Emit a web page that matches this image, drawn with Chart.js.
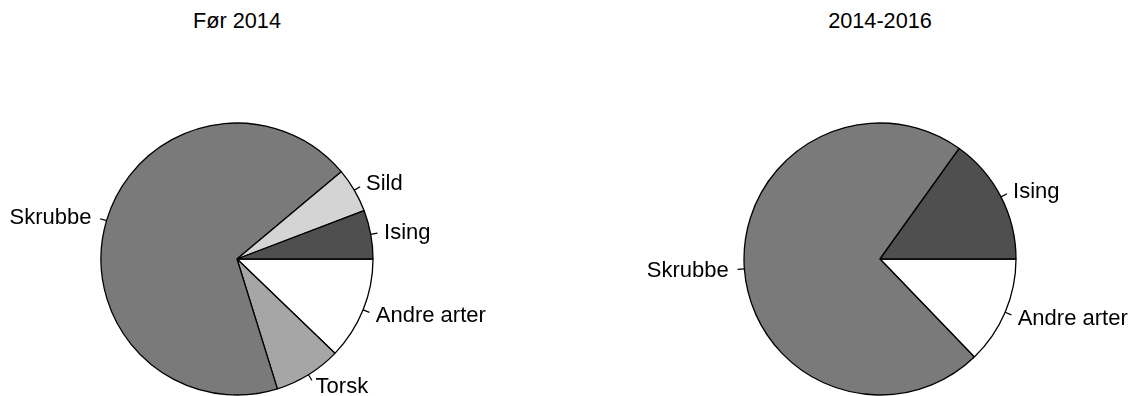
<!DOCTYPE html>
<html>
<head>
<meta charset="utf-8">
<script src="https://cdn.jsdelivr.net/npm/chart.js@4.4.1/dist/chart.umd.min.js"></script>
<style>
  html, body { margin: 0; padding: 0; background: #fff; }
  body { width: 1139px; height: 396px; position: relative; overflow: hidden; font-family: "Liberation Sans", Arial, sans-serif; }
  .wrap { position: absolute; top: 0; height: 396px; }
  .title { position: absolute; top: 8px; font-size: 21.7px; color: #000; transform: translateX(-50%); white-space: nowrap; line-height: 26px; }
</style>
</head>
<body>
<div class="title" style="left:237px">Før 2014</div>
<div class="title" style="left:880px">2014-2016</div>
<div class="wrap" style="left:0px;width:560px"><canvas id="c1" width="560" height="396"></canvas></div>
<div class="wrap" style="left:570px;width:569px"><canvas id="c2" width="569" height="396"></canvas></div>
<script>
// Data (listed counterclockwise from 3 o'clock, as in the reference)
const titles = ['Før 2014', '2014-2016'];
const categoriesLeft = ['Ising', 'Sild', 'Skrubbe', 'Torsk', 'Andre arter'];
const valuesLeft = [5.8, 5.3, 68.7, 8.0, 12.2];
const categoriesRight = ['Ising', 'Skrubbe', 'Andre arter'];
const valuesRight = [15.1, 72.1, 12.8];

const speciesColors = {
  'Ising': '#4f4f4f',
  'Sild': '#d4d4d4',
  'Skrubbe': '#7a7a7a',
  'Torsk': '#a6a6a6',
  'Andre arter': '#ffffff'
};

const FONT = '22px "Liberation Sans", Arial, sans-serif';

const pieLabels = {
  id: 'pieLabels',
  afterDatasetsDraw(chart) {
    const ctx = chart.ctx;
    const meta = chart.getDatasetMeta(0);
    const labels = chart.data.labels;
    ctx.save();
    ctx.font = FONT;
    ctx.fillStyle = '#000';
    ctx.strokeStyle = '#000';
    ctx.lineWidth = 1.2;
    ctx.textBaseline = 'middle';
    meta.data.forEach((arc, i) => {
      const p = arc.getProps(['x', 'y', 'startAngle', 'endAngle', 'outerRadius'], true);
      const a = (p.startAngle + p.endAngle) / 2;
      const c = Math.cos(a), s = Math.sin(a);
      const r = p.outerRadius;
      ctx.beginPath();
      ctx.moveTo(p.x + r * c, p.y + r * s);
      ctx.lineTo(p.x + 1.05 * r * c, p.y + 1.05 * r * s);
      ctx.stroke();
      ctx.textAlign = c < 0 ? 'right' : 'left';
      const dx = c < 0 ? -2 : 0;
      ctx.fillText(labels[i], p.x + 1.1 * r * c + dx, p.y + 1.1 * r * s + 1);
    });
    ctx.restore();
  }
};

function makePie(id, cats, vals, padL, padR) {
  // Chart.js draws clockwise, so reverse to get the counterclockwise order
  const labels = cats.slice().reverse();
  const data = vals.slice().reverse();
  return new Chart(document.getElementById(id), {
    type: 'pie',
    data: {
      labels: labels,
      datasets: [{
        data: data,
        backgroundColor: labels.map(l => speciesColors[l]),
        borderColor: '#000',
        borderWidth: 1.3,
        hoverOffset: 0
      }]
    },
    options: {
      responsive: false,
      animation: false,
      rotation: 90,
      radius: 136,
      layout: { padding: { left: padL, right: padR, top: 123, bottom: 1 } },
      plugins: { legend: { display: false }, tooltip: { enabled: false }, title: { display: false } },
      events: []
    },
    plugins: [pieLabels]
  });
}

makePie('c1', categoriesLeft, valuesLeft, 101, 187);
makePie('c2', categoriesRight, valuesRight, 174, 123);
</script>
</body>
</html>
